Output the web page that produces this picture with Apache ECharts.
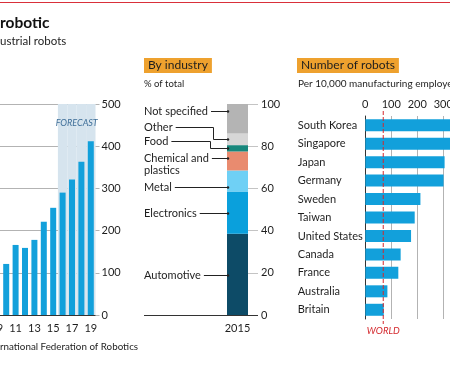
<!DOCTYPE html>
<html>
<head>
<meta charset="utf-8">
<style>
  html, body { margin: 0; padding: 0; background: #fff; overflow: hidden; width: 450px; height: 375px; }
  #chart { position: absolute; left: -20px; top: 0; width: 570px; height: 375px; }
</style>
<script src="https://cdn.jsdelivr.net/npm/echarts@6/dist/echarts.min.js"></script>
</head>
<body>
<div id="chart"></div>
<script>
// annual supply of industrial robots, '000 (2016-19 forecast)
const years = ['09', '10', '11', '12', '13', '14', '15', '16', '17', '18', '19']
const installs = [60, 121, 166, 159, 178, 221, 254, 290, 321, 363, 412]
const forecastFrom = '16'

// by industry, % of total, 2015 (bottom to top)
const industries = ['Automotive', 'Electronics', 'Metal', 'Chemical and plastics', 'Food', 'Other', 'Not specified']
const industryShare = [38.5, 20, 10, 9, 3, 5.5, 14]
const industryColors = ['#0d4b67', '#0aa0dc', '#6fd0f5', '#e98b6f', '#17877c', '#d6d6d6', '#b4b4b4']

// robots per 10,000 manufacturing employees
const countries = ['South Korea', 'Singapore', 'Japan', 'Germany', 'Sweden', 'Taiwan', 'United States', 'Canada', 'France', 'Australia', 'Britain']
const density = [531, 398, 305, 301, 212, 190, 176, 136, 127, 85, 71]
const worldAverage = 69

const FONT = 'Lato'
const TEXT = '#1e1e1e'
const BLUE = '#12a0db'
const GRID_GREY = '#b3b3b3'
// the chart div starts 20px left of the page so the first bar is cut off
const OX = 20

const chart = echarts.init(document.getElementById('chart'))

const industrySeries = industries.map((name, i) => ({
  type: 'bar',
  name: name,
  stack: 'industry',
  xAxisIndex: 2,
  yAxisIndex: 1,
  barWidth: '100%',
  silent: true,
  itemStyle: { color: industryColors[i] },
  data: [industryShare[i]]
}))

const boxTitle = (text, left) => ({
  text: text,
  left: left,
  top: 58,
  padding: [1, 4, 1, 4],
  backgroundColor: '#eea12e',
  textStyle: { fontSize: 12, fontWeight: 'normal', color: TEXT, fontFamily: FONT, lineHeight: 13 }
})

chart.setOption({
  animation: false,
  textStyle: { fontFamily: FONT, color: TEXT },
  title: [boxTitle('By industry', OX + 144), boxTitle('Number of robots', OX + 297)],
  grid: [
    { left: OX - 7.9, top: 104, width: 103.4, height: 211 },
    { left: OX + 227, top: 104, width: 21, height: 211 },
    { left: OX + 365.3, top: 116, width: 156, height: 203 }
  ],
  xAxis: [
    {
      type: 'category',
      gridIndex: 0,
      data: years,
      axisLine: { lineStyle: { color: '#333' } },
      axisTick: { show: false },
      axisLabel: { interval: 1, fontSize: 11, color: TEXT, margin: 8 }
    },
    { type: 'category', gridIndex: 0, data: years, show: false },
    {
      type: 'category',
      gridIndex: 1,
      data: ['2015'],
      axisLine: { show: false },
      axisTick: { show: false },
      axisLabel: { fontSize: 11, color: TEXT, margin: 8 }
    },
    {
      type: 'value',
      gridIndex: 2,
      position: 'top',
      min: 0,
      max: 600,
      interval: 100,
      axisLine: { show: false },
      axisTick: { show: false },
      splitLine: { lineStyle: { color: GRID_GREY } },
      axisLabel: { fontSize: 11, color: TEXT, margin: 6 }
    }
  ],
  yAxis: [
    {
      type: 'value',
      gridIndex: 0,
      position: 'right',
      min: 0,
      max: 500,
      interval: 100,
      axisLine: { show: false },
      axisTick: { show: true, length: 4, lineStyle: { color: GRID_GREY } },
      splitLine: { lineStyle: { color: GRID_GREY } },
      axisLabel: { fontSize: 11, color: TEXT, margin: 6 }
    },
    {
      type: 'value',
      gridIndex: 1,
      position: 'right',
      min: 0,
      max: 100,
      interval: 20,
      axisLine: { show: false },
      axisTick: { show: true, length: 10, lineStyle: { color: '#c4c4c4' } },
      splitLine: { show: false },
      axisLabel: { fontSize: 11, color: TEXT, margin: 13 }
    },
    {
      type: 'category',
      gridIndex: 2,
      data: countries,
      inverse: true,
      axisLine: { lineStyle: { color: '#333' } },
      axisTick: { show: false },
      axisLabel: { fontSize: 11, color: TEXT, align: 'left', margin: 67.5 }
    }
  ],
  series: [
    {
      type: 'bar',
      name: 'forecast',
      xAxisIndex: 1,
      yAxisIndex: 0,
      barWidth: '100%',
      silent: true,
      itemStyle: { color: '#d6e4ee' },
      data: years.map(y => (y >= forecastFrom ? 500 : null))
    },
    {
      type: 'bar',
      name: 'installs',
      xAxisIndex: 0,
      yAxisIndex: 0,
      barWidth: 6,
      itemStyle: { color: BLUE },
      data: installs
    },
    ...industrySeries,
    {
      type: 'bar',
      name: 'density',
      xAxisIndex: 3,
      yAxisIndex: 2,
      barWidth: 12,
      itemStyle: { color: BLUE },
      data: density
    }
  ]
})

// annotations: leader lines for the industry column, world line, headings
const ctx = document.createElement('canvas').getContext('2d')
const textWidth = (s, size) => {
  ctx.font = size + 'px ' + FONT
  return ctx.measureText(s).width
}

const labelX = OX + 144
const barX = OX + 228
const leaders = [
  { text: 'Not specified', y: 111, bend: null, end: 111 },
  { text: 'Other', y: 127, bend: OX + 213, end: 139 },
  { text: 'Food', y: 141, bend: OX + 210, end: 148 },
  { text: 'Chemical and', y: 158, bend: null, end: 158, extra: 'plastics' },
  { text: 'Metal', y: 187, bend: null, end: 187 },
  { text: 'Electronics', y: 213, bend: null, end: 213 },
  { text: 'Automotive', y: 275, bend: null, end: 275 }
]

const graphics = [
  { type: 'rect', shape: { x: 0, y: 2, width: 570, height: 1 }, style: { fill: '#d9303a' } },
  { type: 'text', x: OX, y: 23, style: { text: 'robotic', font: 'bold 15.5px ' + FONT, fill: '#111', textVerticalAlign: 'middle' } },
  { type: 'text', x: OX, y: 41, style: { text: 'ustrial robots', font: '11.5px ' + FONT, fill: TEXT, textVerticalAlign: 'middle' } },
  { type: 'text', x: OX, y: 347, style: { text: 'rnational Federation of Robotics', font: '9.8px ' + FONT, fill: TEXT, textVerticalAlign: 'middle' } },
  { type: 'text', x: OX + 144, y: 84, style: { text: '% of total', font: '9.5px ' + FONT, fill: TEXT, textVerticalAlign: 'middle' } },
  { type: 'text', x: OX + 298, y: 84, style: { text: 'Per 10,000 manufacturing employees', font: '10px ' + FONT, fill: TEXT, textVerticalAlign: 'middle' } }
]

// FORECAST label over the shaded years
const fcStart = chart.convertToPixel({ xAxisIndex: 1, yAxisIndex: 0 }, [forecastFrom, 500])
const fcEnd = chart.convertToPixel({ xAxisIndex: 1, yAxisIndex: 0 }, [years[years.length - 1], 500])
graphics.push({
  type: 'text',
  x: (fcStart[0] + fcEnd[0]) / 2,
  y: 123,
  z: 20,
  style: { text: 'FORECAST', font: 'italic 9px ' + FONT, fill: '#3f6f99', textAlign: 'center', textVerticalAlign: 'middle' }
})

leaders.forEach(l => {
  const x0 = labelX + textWidth(l.text, 11) + 3
  graphics.push({ type: 'text', x: labelX, y: l.y, style: { text: l.text, font: '11px ' + FONT, fill: TEXT, textVerticalAlign: 'middle' } })
  if (l.extra) {
    graphics.push({ type: 'text', x: labelX, y: l.y + 12, style: { text: l.extra, font: '11px ' + FONT, fill: TEXT, textVerticalAlign: 'middle' } })
  }
  const pts = l.bend
    ? [[x0, l.y + 0.5], [l.bend + 0.5, l.y + 0.5], [l.bend + 0.5, l.end + 0.5], [barX, l.end + 0.5]]
    : [[x0, l.y + 0.5], [barX, l.end + 0.5]]
  graphics.push({ type: 'polyline', shape: { points: pts }, style: { stroke: '#222', lineWidth: 1, fill: null }, z: 10 })
  graphics.push({ type: 'circle', shape: { cx: barX, cy: l.end + 0.5, r: 1.2 }, style: { fill: '#222' }, z: 10 })
})

// baseline under the industry column
const base = chart.convertToPixel({ xAxisIndex: 2, yAxisIndex: 1 }, ['2015', 0])
graphics.push({
  type: 'line',
  shape: { x1: labelX, y1: Math.round(base[1]) + 0.5, x2: OX + 258, y2: Math.round(base[1]) + 0.5 },
  style: { stroke: '#333', lineWidth: 1 },
  z: 10
})

// world average, dashed
const wx = chart.convertToPixel({ xAxisIndex: 3, yAxisIndex: 2 }, [worldAverage, countries[0]])[0]
graphics.push({
  type: 'line',
  shape: { x1: wx, y1: 111, x2: wx, y2: 324 },
  style: { stroke: '#d4282d', lineWidth: 1, lineDash: [4, 2] },
  z: 10
})
graphics.push({
  type: 'text',
  x: wx,
  y: 331,
  style: { text: 'WORLD', font: 'italic 9.5px ' + FONT, fill: '#d4282d', textAlign: 'center', textVerticalAlign: 'middle' }
})

chart.setOption({ graphic: graphics })
</script>
</body>
</html>
